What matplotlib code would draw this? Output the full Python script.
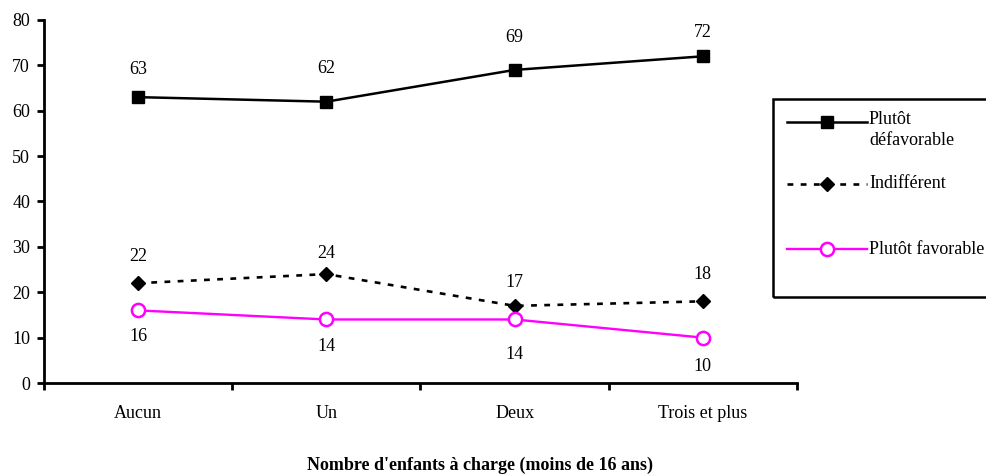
import matplotlib
matplotlib.use("Agg")
import matplotlib.pyplot as plt
from matplotlib.lines import Line2D
from matplotlib.patches import Rectangle

plt.rcParams['font.family'] = ['Liberation Serif', 'DejaVu Serif']

categories = ["Aucun", "Un", "Deux", "Trois et plus"]
defavorable = [63, 62, 69, 72]
indifferent = [22, 24, 17, 18]
favorable = [16, 14, 14, 10]

# decalage vertical des etiquettes (pixels)
off_def = [28, 33, 32, 24]
off_ind = [27, 21, 23, 27]
off_fav = [-26, -27, -35, -29]

W, H = 987, 474
fig = plt.figure(figsize=(W / 100, H / 100), dpi=100)
ax = fig.add_axes([44 / W, 1 - 383 / H, (797 - 44) / W, (383 - 20) / H])

x = list(range(len(categories)))
magenta = "#FF00FF"

style_def = dict(color="black", lw=1.8, marker="s", ms=8.5, mfc="black", mec="black")
style_ind = dict(color="black", lw=1.9, ls=(0, (2.2, 2.8)), marker="D", ms=7.5,
                 mfc="black", mec="black")
style_fav = dict(color=magenta, lw=1.7, marker="o", ms=9.5, mfc="white",
                 mec=magenta, mew=1.8)

ax.plot(x, defavorable, clip_on=False, **style_def)
ax.plot(x, indifferent, clip_on=False, **style_ind)
ax.plot(x, favorable, clip_on=False, **style_fav)

for serie, offs in [(defavorable, off_def), (indifferent, off_ind), (favorable, off_fav)]:
    for i, v in enumerate(serie):
        ax.annotate(str(v), (i, v), xytext=(0, offs[i]), textcoords="offset pixels",
                    ha="center", va="center", fontsize=13)

ax.set_xlim(-0.5, len(categories) - 0.5)
ax.set_ylim(0, 80)
ax.set_yticks(range(0, 81, 10))
ax.set_xticks(x)
ax.set_xticklabels(categories)
ax.set_xticks([i - 0.5 for i in range(len(categories) + 1)], minor=True)

for s in ["top", "right"]:
    ax.spines[s].set_visible(False)
for s in ["left", "bottom"]:
    ax.spines[s].set_linewidth(2)

ax.tick_params(axis="y", direction="out", length=5, width=2, labelsize=13, pad=5)
ax.tick_params(axis="x", which="major", length=0, labelsize=13, pad=16)
ax.tick_params(axis="x", which="minor", direction="out", length=5, width=2)

fig.text(480 / W, 1 - 465 / H, "Nombre d'enfants à charge (moins de 16 ans)",
         ha="center", va="center", fontsize=13, fontweight="bold")

# legende dessinee a la main, cadre qui deborde a droite
fig.patches.append(Rectangle((773 / W, 1 - 297 / H), 240 / W, 198 / H,
                             transform=fig.transFigure, fill=False,
                             edgecolor="black", lw=1.8, clip_on=False))

entries = [
    ("Plutôt\ndéfavorable", 122, style_def),
    ("Indifférent", 184, style_ind),
    ("Plutôt favorable", 249, style_fav),
]
for label, ypix, style in entries:
    yf = 1 - ypix / H
    fig.lines.append(Line2D([787 / W, 867 / W], [yf, yf], transform=fig.transFigure,
                            markevery=[], **style))
    fig.lines.append(Line2D([827 / W], [yf], transform=fig.transFigure,
                            **{k: v for k, v in style.items() if k != "ls"}))
    if "\n" in label:
        fig.text(869 / W, yf + 11 / H, label, ha="left", va="top", fontsize=13,
                 linespacing=1.3)
    else:
        fig.text(869 / W, yf, label, ha="left", va="center", fontsize=13)

fig.savefig("out.png", dpi=100)
